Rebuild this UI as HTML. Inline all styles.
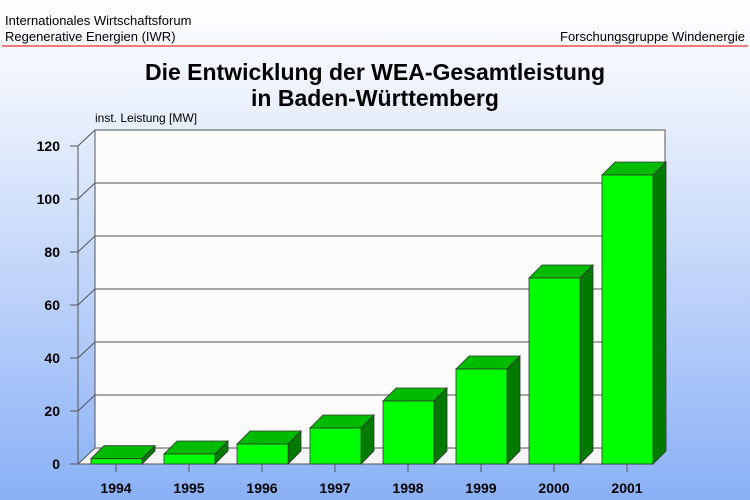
<!DOCTYPE html>
<html><head><meta charset="utf-8"><style>
html,body{margin:0;padding:0;width:750px;height:500px;overflow:hidden}
svg{display:block}
</style></head><body>
<svg width="750" height="500" xmlns="http://www.w3.org/2000/svg" font-family="Liberation Sans, Arial, sans-serif">
<defs><linearGradient id="bg" x1="0" y1="0" x2="0" y2="1">
<stop offset="0" stop-color="#ffffff"/><stop offset="0.25" stop-color="#e6eefc"/><stop offset="1" stop-color="#8ab0f6"/></linearGradient></defs>
<rect width="750" height="500" fill="url(#bg)"/>
<text x="5" y="25" font-size="13">Internationales Wirtschaftsforum</text>
<text x="5" y="41" font-size="13">Regenerative Energien (IWR)</text>
<text x="745" y="41" font-size="13" text-anchor="end">Forschungsgruppe Windenergie</text>
<line x1="2" y1="46" x2="748" y2="46" stroke="#f05050" stroke-width="1.5"/>
<text x="375" y="80" font-size="23" font-weight="bold" text-anchor="middle">Die Entwicklung der WEA-Gesamtleistung</text>
<text x="375" y="106" font-size="23" font-weight="bold" text-anchor="middle">in Baden-Württemberg</text>
<text x="95" y="122" font-size="12">inst. Leistung [MW]</text>
<rect x="95" y="130" width="570" height="318" fill="#fcfcfc" stroke="#555"/>
<polygon points="78,464 95,448 665,448 650,464" fill="#f4f4f4" stroke="#555"/>
<line x1="78" y1="146" x2="78" y2="464" stroke="#555"/>
<line x1="78" y1="146" x2="95" y2="130" stroke="#555"/>
<g stroke="#555" stroke-width="1">
<line x1="95" y1="395" x2="665" y2="395"/><line x1="78" y1="411" x2="95" y2="395"/>
<line x1="95" y1="342" x2="665" y2="342"/><line x1="78" y1="358" x2="95" y2="342"/>
<line x1="95" y1="289" x2="665" y2="289"/><line x1="78" y1="305" x2="95" y2="289"/>
<line x1="95" y1="236" x2="665" y2="236"/><line x1="78" y1="252" x2="95" y2="236"/>
<line x1="95" y1="183" x2="665" y2="183"/><line x1="78" y1="199" x2="95" y2="183"/>
<line x1="70" y1="464" x2="78" y2="464"/><line x1="70" y1="411" x2="78" y2="411"/>
<line x1="70" y1="358" x2="78" y2="358"/><line x1="70" y1="305" x2="78" y2="305"/>
<line x1="70" y1="252" x2="78" y2="252"/><line x1="70" y1="199" x2="78" y2="199"/>
<line x1="70" y1="146" x2="78" y2="146"/>
<line x1="78" y1="464" x2="650" y2="464"/>
</g>
<g font-size="14" font-weight="bold" text-anchor="end">
<text x="60" y="469">0</text><text x="60" y="416">20</text><text x="60" y="363">40</text>
<text x="60" y="310">60</text><text x="60" y="257">80</text><text x="60" y="204">100</text><text x="60" y="151">120</text>
</g>
<g stroke="#333" stroke-width="0.8">
<polygon points="91,458.7 104,445.7 155,445.7 142,458.7" fill="#00bb00"/><polygon points="142,458.7 155,445.7 155,451 142,464" fill="#007a00"/><rect x="91" y="458.7" width="51" height="5.3" fill="#00ff00"/>
<polygon points="164,454 177,441 228,441 215,454" fill="#00bb00"/><polygon points="215,454 228,441 228,451 215,464" fill="#007a00"/><rect x="164" y="454" width="51" height="10" fill="#00ff00"/>
<polygon points="237,444 250,431 301,431 288,444" fill="#00bb00"/><polygon points="288,444 301,431 301,451 288,464" fill="#007a00"/><rect x="237" y="444" width="51" height="20" fill="#00ff00"/>
<polygon points="310,428 323,415 374,415 361,428" fill="#00bb00"/><polygon points="361,428 374,415 374,451 361,464" fill="#007a00"/><rect x="310" y="428" width="51" height="36" fill="#00ff00"/>
<polygon points="383,401 396,388 447,388 434,401" fill="#00bb00"/><polygon points="434,401 447,388 447,451 434,464" fill="#007a00"/><rect x="383" y="401" width="51" height="63" fill="#00ff00"/>
<polygon points="456,369 469,356 520,356 507,369" fill="#00bb00"/><polygon points="507,369 520,356 520,451 507,464" fill="#007a00"/><rect x="456" y="369" width="51" height="95" fill="#00ff00"/>
<polygon points="529,278 542,265 593,265 580,278" fill="#00bb00"/><polygon points="580,278 593,265 593,451 580,464" fill="#007a00"/><rect x="529" y="278" width="51" height="186" fill="#00ff00"/>
<polygon points="602,175 615,162 666,162 653,175" fill="#00bb00"/><polygon points="653,175 666,162 666,451 653,464" fill="#007a00"/><rect x="602" y="175" width="51" height="289" fill="#00ff00"/>
</g>
<g stroke="#555">
<line x1="116" y1="464" x2="116" y2="472"/><line x1="189" y1="464" x2="189" y2="472"/><line x1="262" y1="464" x2="262" y2="472"/><line x1="335" y1="464" x2="335" y2="472"/>
<line x1="408" y1="464" x2="408" y2="472"/><line x1="481" y1="464" x2="481" y2="472"/><line x1="554" y1="464" x2="554" y2="472"/><line x1="627" y1="464" x2="627" y2="472"/>
</g>
<g font-size="14" font-weight="bold" text-anchor="middle">
<text x="116" y="493">1994</text><text x="189" y="493">1995</text><text x="262" y="493">1996</text><text x="335" y="493">1997</text>
<text x="408" y="493">1998</text><text x="481" y="493">1999</text><text x="554" y="493">2000</text><text x="627" y="493">2001</text>
</g>
</svg>
</body></html>
